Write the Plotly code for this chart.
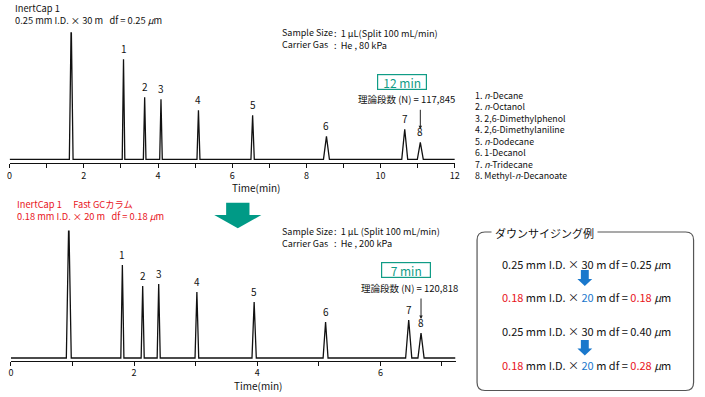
import plotly.graph_objects as go

# ---------------- data ----------------
top_times = [3.07, 3.64, 4.08, 5.09, 6.55, 8.54, 10.65, 11.07]
top_heights = [100, 62, 60, 49, 44, 23, 30, 17]
top_halfwidths = [0.035, 0.035, 0.035, 0.04, 0.045, 0.08, 0.08, 0.08]
top_solvent_time = 1.66
top_solvent_height = 140
top_solvent_halfwidth = 0.05

bottom_times = [1.81, 2.14, 2.40, 3.02, 3.95, 5.11, 6.46, 6.66]
bottom_heights = [93, 72, 74, 66, 56, 36, 38, 25]
bottom_halfwidths = [0.025, 0.025, 0.025, 0.03, 0.035, 0.04, 0.05, 0.05]
bottom_solvent_time = 0.94
bottom_solvent_height = 140
bottom_solvent_halfwidth = 0.04

peak_labels = ["1", "2", "3", "4", "5", "6", "7", "8"]
compound_names = [
    "1. <i>n</i>-Decane",
    "2. <i>n</i>-Octanol",
    "3. 2,6-Dimethylphenol",
    "4. 2,6-Dimethylaniline",
    "5. <i>n</i>-Dodecane",
    "6. 1-Decanol",
    "7. <i>n</i>-Tridecane",
    "8. Methyl-<i>n</i>-Decanoate",
]
top_tick_vals = list(range(0, 13))
top_tick_text = [str(v) if v % 2 == 0 else "" for v in top_tick_vals]
bottom_tick_vals = list(range(0, 8))
bottom_tick_text = [str(v) if v % 2 == 0 else "" for v in bottom_tick_vals]

# ---------------- helpers ----------------
W, H = 705, 397
FONT = "Noto Sans CJK JP"
TEAL = "#109c86"
RED = "#e8141c"
BLUE = "#1a78cc"


def px(x):
    return x / W


def py(y):
    return 1 - y / H


def chrom(times, heights, hws, st, sh, shw, xmax):
    xs, ys = [0], [0]
    peaks = sorted([(st, sh, shw)] + list(zip(times, heights, hws)))
    for t, h, w in peaks:
        xs += [t - w, t, t + w]
        ys += [0, h, 0]
    xs.append(xmax)
    ys.append(0)
    return xs, ys


fig = go.Figure()

tx, ty = chrom(top_times, top_heights, top_halfwidths,
               top_solvent_time, top_solvent_height, top_solvent_halfwidth, 12)
bx, by = chrom(bottom_times, bottom_heights, bottom_halfwidths,
               bottom_solvent_time, bottom_solvent_height, bottom_solvent_halfwidth, 7.22)

fig.add_trace(go.Scatter(x=tx, y=ty, mode="lines", xaxis="x", yaxis="y",
                         line=dict(color="#111", width=1.3), hoverinfo="skip"))
fig.add_trace(go.Scatter(x=bx, y=by, mode="lines", xaxis="x2", yaxis="y2",
                         line=dict(color="#111", width=1.3), hoverinfo="skip"))

axis_common = dict(showgrid=False, zeroline=False, showline=True, linecolor="#111",
                   linewidth=1.3, ticks="outside", ticklen=4, tickwidth=1,
                   tickcolor="#111", tickfont=dict(size=9, family=FONT, color="#111"),
                   tickmode="array", fixedrange=True, tickangle=0)

fig.update_layout(
    width=W, height=H,
    margin=dict(l=0, r=0, t=0, b=0),
    paper_bgcolor="white", plot_bgcolor="white",
    showlegend=False,
    xaxis=dict(domain=[px(6.7), px(457)], range=[0, 12], anchor="y",
               tickvals=top_tick_vals, ticktext=top_tick_text, **axis_common),
    yaxis=dict(domain=[py(163.3), py(32.3)], range=[-4, 127], visible=False,
               fixedrange=True),
    xaxis2=dict(domain=[px(8), px(457.7)], range=[0, 7.22], anchor="y2",
                tickvals=bottom_tick_vals, ticktext=bottom_tick_text, **axis_common),
    yaxis2=dict(domain=[py(360.5), py(230.5)], range=[-2.5, 127.5], visible=False,
                fixedrange=True),
    font=dict(family=FONT, color="#111"),
)

ann = []


def text(x, y, s, size=9, color="#111", xanchor="left", **kw):
    ann.append(dict(x=px(x), y=py(y), xref="paper", yref="paper", text=s,
                    showarrow=False, xanchor=xanchor, yanchor="middle",
                    font=dict(size=size, family=FONT, color=color), **kw))


# peak labels
for t, h, lab in zip(top_times, top_heights, peak_labels):
    ann.append(dict(x=t, y=h, xref="x", yref="y", text=lab, showarrow=False,
                    yanchor="bottom", yshift=1, font=dict(size=10, family=FONT, color="#111")))
for t, h, lab in zip(bottom_times, bottom_heights, peak_labels):
    ann.append(dict(x=t, y=h, xref="x2", yref="y2", text=lab, showarrow=False,
                    yanchor="bottom", yshift=1, font=dict(size=10, family=FONT, color="#111")))

# arrows to peak 8
ann.append(dict(x=top_times[7], y=top_heights[7] + 13, xref="x", yref="y", text="",
                showarrow=True, arrowhead=2, arrowsize=0.7, arrowwidth=1,
                arrowcolor="#222", ax=0, ay=-21))
ann.append(dict(x=bottom_times[7], y=bottom_heights[7] + 14, xref="x2", yref="y2", text="",
                showarrow=True, arrowhead=2, arrowsize=0.7, arrowwidth=1,
                arrowcolor="#222", ax=0, ay=-22))

# top header texts
text(10, 14, "InertCap 1<br>0.25 mm I.D. × 30 m &nbsp; df = 0.25 <i>μ</i>m", 9.3, align="left")
text(280, 39, "Sample Size<br>Carrier Gas", 9, align="left")
text(333, 39, ":&nbsp; 1 μL(Split 100 mL/min)<br>:&nbsp; He , 80 kPa", 9.2, align="left")
ann.append(dict(x=px(404), y=py(81.5), xref="paper", yref="paper", text="12 min",
                showarrow=False, xanchor="center", yanchor="middle",
                width=46, height=12, borderpad=1, bordercolor=TEAL, borderwidth=1.2,
                font=dict(size=12, family=FONT, color=TEAL)))
text(459, 99, "理論段数 (N) = 117,845", 9.5, xanchor="right")
text(256, 187, "Time(min)", 10, xanchor="center")

# compound list (single multi-line block)
text(475, 95 + 3.5 * 11.5, "<br>".join(compound_names), 8.8, align="left")

# middle red header
text(12, 210, "InertCap 1　 Fast GCカラム<br>0.18 mm I.D. × 20 m &nbsp; df = 0.18 <i>μ</i>m",
     9.3, color=RED, align="left")

# bottom header
text(280, 237, "Sample Size<br>Carrier Gas", 9, align="left")
text(333, 237, ":&nbsp; 1 μL (Split 100 mL/min)<br>:&nbsp; He , 200 kPa", 9.2, align="left")
ann.append(dict(x=px(407.5), y=py(270.3), xref="paper", yref="paper", text="7 min",
                showarrow=False, xanchor="center", yanchor="middle",
                width=46, height=12, borderpad=1, bordercolor=TEAL, borderwidth=1.2,
                font=dict(size=12, family=FONT, color=TEAL)))
text(462, 288, "理論段数 (N) = 120,818", 9.5, xanchor="right")
text(258, 385, "Time(min)", 10, xanchor="center")

# right box content
box_lines = [
    (263.5, "0.25 mm I.D. × 30 m df = 0.25 <i>μ</i>m"),
    (296.5, f"<span style='color:{RED}'>0.18</span> mm I.D. × <span style='color:{BLUE}'>20</span> m df = <span style='color:{RED}'>0.18</span> <i>μ</i>m"),
    (331, "0.25 mm I.D. × 30 m df = 0.40 <i>μ</i>m"),
    (365, f"<span style='color:{RED}'>0.18</span> mm I.D. × <span style='color:{BLUE}'>20</span> m df = <span style='color:{RED}'>0.28</span> <i>μ</i>m"),
]
for y, s in box_lines:
    text(590, y, s, 11, xanchor="center")

text(548, 233, "ダウンサイジング例", 11, xanchor="center", bgcolor="white", borderpad=3)

fig.update_layout(annotations=ann)

# shapes
shapes = []
# rounded box
x0, x1, y0, y1, r = 479.5, 698.5, 232, 390.5, 8
path = (f"M {px(x0 + r)},{py(y0)} L {px(x1 - r)},{py(y0)} "
        f"Q {px(x1)},{py(y0)} {px(x1)},{py(y0 + r)} "
        f"L {px(x1)},{py(y1 - r)} Q {px(x1)},{py(y1)} {px(x1 - r)},{py(y1)} "
        f"L {px(x0 + r)},{py(y1)} Q {px(x0)},{py(y1)} {px(x0)},{py(y1 - r)} "
        f"L {px(x0)},{py(y0 + r)} Q {px(x0)},{py(y0)} {px(x0 + r)},{py(y0)} Z")
shapes.append(dict(type="path", path=path, xref="paper", yref="paper",
                   line=dict(color="#555", width=1.2), fillcolor="rgba(0,0,0,0)", layer="below"))


def down_arrow(cx, top, shaft_bottom, tip, shaft_hw, head_hw, color):
    p = (f"M {px(cx - shaft_hw)},{py(top)} L {px(cx + shaft_hw)},{py(top)} "
         f"L {px(cx + shaft_hw)},{py(shaft_bottom)} L {px(cx + head_hw)},{py(shaft_bottom)} "
         f"L {px(cx)},{py(tip)} L {px(cx - head_hw)},{py(shaft_bottom)} "
         f"L {px(cx - shaft_hw)},{py(shaft_bottom)} Z")
    return dict(type="path", path=p, xref="paper", yref="paper",
                line=dict(width=0), fillcolor=color)


shapes.append(down_arrow(237.5, 202.7, 215, 228.3, 11.8, 23.8, "#009a86"))
shapes.append(down_arrow(588.5, 270, 279, 286, 4, 7.5, BLUE))
shapes.append(down_arrow(588.5, 340, 348.5, 355.5, 4, 7.5, BLUE))

fig.update_layout(shapes=shapes)

fig.write_html("out.html", config={"displayModeBar": False},
               post_script="document.body.style.margin='0';document.body.style.overflow='hidden';")
